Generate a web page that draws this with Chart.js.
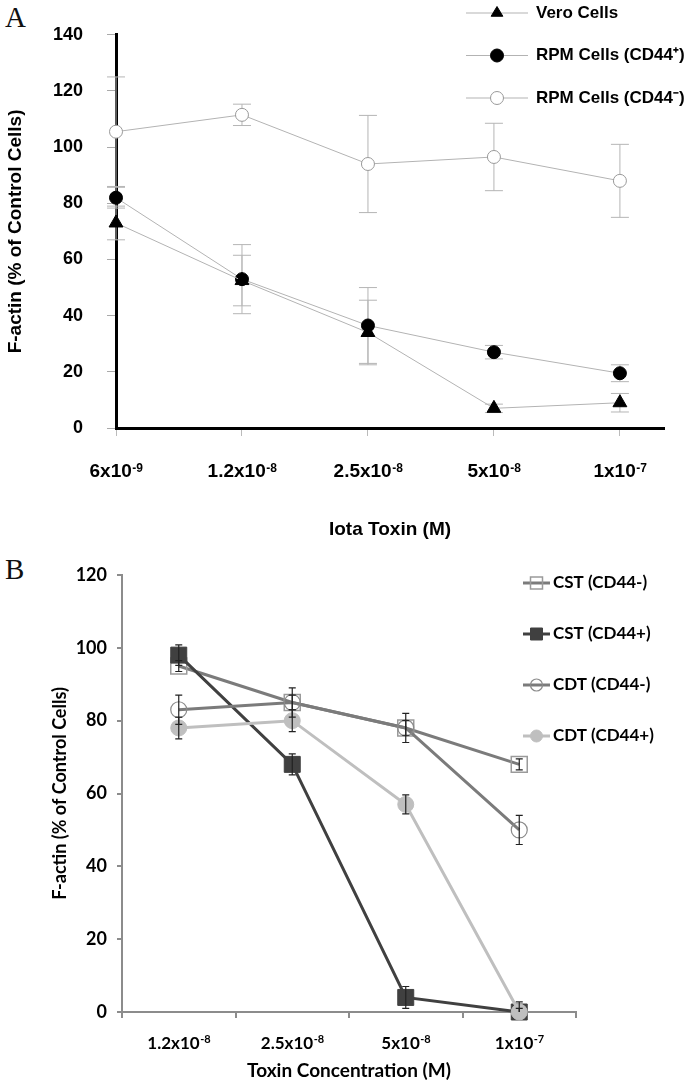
<!DOCTYPE html>
<html lang="en">
<head>
<meta charset="UTF-8">
<title>F-actin vs toxin concentration</title>
<script src="https://cdn.jsdelivr.net/npm/chart.js"></script>
<style>
  body { margin: 0; background: #fff; width: 692px; height: 1086px; position: relative; overflow: hidden; }
  canvas { position: absolute; left: 0; }
  #cA { top: 0; }
  #cB { top: 550px; }
  .panel { position: absolute; left: 5px; font: 29px "Liberation Serif", "DejaVu Serif", serif; line-height: 29px; color: #111; }
</style>
</head>
<body>
<div class="panel" style="top:3px">A</div>
<div class="panel" style="top:555px">B</div>
<canvas id="cA" width="692" height="550"></canvas>
<canvas id="cB" width="692" height="536"></canvas>

<script>
// ---- panel A : iota toxin ----
const labelsA = ['6x10⁻⁹', '1.2x10⁻⁸', '2.5x10⁻⁸', '5x10⁻⁸', '1x10⁻⁷'];
const vero      = [73, 52.5, 34, 7, 9];
const veroErr   = [6, 9, 11.5, 1.5, 3.3];
const rpmPos    = [82, 53, 36.5, 27, 19.5];
const rpmPosErr = [3.7, 12.3, 13.5, 2.4, 3];
const rpmNeg    = [105.5, 111.5, 94, 96.5, 88];
const rpmNegErr = [19.5, 3.8, 17.3, 12, 13];
const ticksA    = [0, 20, 40, 60, 80, 100, 120, 140];

// ---- panel B : CST / CDT ----
const labelsB   = ['1.2x10⁻⁸', '2.5x10⁻⁸', '5x10⁻⁸', '1x10⁻⁷'];
const cstNeg    = [95, 85, 78, 68];
const cstNegErr = [1.5, 2, 4, 1.5];
const cstPos    = [98, 68, 4, 0];
const cstPosErr = [2.8, 2.9, 3, 1];
const cdtNeg    = [83, 85, 78, 50];
const cdtNegErr = [4, 4, 2, 4];
const cdtPos    = [78, 80, 57, 0];
const cdtPosErr = [3, 3, 2.6, 2.8];

const sansA = '"Liberation Sans", Arial, sans-serif';
const sansB = 'Lato, "Open Sans", sans-serif';

const supMap = { '⁻': '-', '⁺': '+', '⁰': '0', '¹': '1', '²': '2', '³': '3', '⁴': '4',
                 '⁵': '5', '⁶': '6', '⁷': '7', '⁸': '8', '⁹': '9' };

function splitSup(s) {
  const chars = [...s];
  const k = chars.findIndex(c => supMap[c]);
  if (k < 0) return [s, ''];
  return [chars.slice(0, k).join(''), chars.slice(k).map(c => supMap[c] || c).join('')];
}

function drawMarker(ctx, style, x, y, r, fill, stroke, lw) {
  ctx.beginPath();
  if (style === 'rect') {
    ctx.rect(x - r, y - r, 2 * r, 2 * r);
  } else if (style === 'triangle') {
    const h = r * 1.5;
    ctx.moveTo(x, y - r);
    ctx.lineTo(x + r * 0.9, y + h - r);
    ctx.lineTo(x - r * 0.9, y + h - r);
    ctx.closePath();
  } else {
    ctx.arc(x, y, r, 0, Math.PI * 2);
  }
  if (fill) { ctx.fillStyle = fill; ctx.fill(); }
  if (stroke && lw) { ctx.strokeStyle = stroke; ctx.lineWidth = lw; ctx.stroke(); }
}

function paintErrors(chart, o) {
  const ctx = chart.ctx;
  ctx.save();
  ctx.strokeStyle = o.color;
  ctx.lineWidth = o.width;
  chart.data.datasets.forEach((ds, i) => {
    const meta = chart.getDatasetMeta(i);
    const ys = chart.scales[meta.yAxisID];
    meta.data.forEach((pt, j) => {
      const e = ds.errors[j];
      if (!e) return;
      const raw = ds.data[j];
      const v = typeof raw === 'object' ? raw.y : raw;
      const lo = Math.max(v - e, ys.min);
      const yt = ys.getPixelForValue(v + e);
      const yb = ys.getPixelForValue(lo);
      const x = pt.x;
      ctx.beginPath();
      ctx.moveTo(x, yt); ctx.lineTo(x, yb);
      ctx.moveTo(x - o.cap, yt); ctx.lineTo(x + o.cap, yt);
      if (lo > ys.min) { ctx.moveTo(x - o.cap, yb); ctx.lineTo(x + o.cap, yb); }
      ctx.stroke();
    });
  });
  ctx.restore();
}

const errorBars = {
  id: 'errorBars',
  beforeDatasetsDraw(chart, args, o) { if (!o.front) paintErrors(chart, o); },
  afterDatasetsDraw(chart, args, o) { if (o.front) paintErrors(chart, o); }
};

// x tick labels with a real raised exponent
const supTicks = {
  id: 'supTicks',
  afterDraw(chart, args, o) {
    const ctx = chart.ctx;
    const sc = chart.scales.x;
    ctx.save();
    ctx.fillStyle = '#000';
    ctx.textBaseline = 'alphabetic';
    ctx.textAlign = 'left';
    sc.ticks.forEach((t, i) => {
      const [base, exp] = splitSup(o.labels[i]);
      ctx.font = 'bold ' + o.size + 'px ' + o.family;
      const w1 = ctx.measureText(base).width;
      ctx.font = 'bold ' + o.expSize + 'px ' + o.family;
      const w2 = ctx.measureText(exp).width;
      const x0 = sc.getPixelForTick(i) - (w1 + w2) / 2;
      ctx.font = 'bold ' + o.size + 'px ' + o.family;
      ctx.fillText(base, x0, o.y);
      ctx.font = 'bold ' + o.expSize + 'px ' + o.family;
      ctx.fillText(exp, x0 + w1 + 0.5, o.y - o.raise);
    });
    ctx.restore();
  }
};

const sideLegend = {
  id: 'sideLegend',
  afterDraw(chart, args, o) {
    const ctx = chart.ctx;
    ctx.save();
    chart.data.datasets.forEach((ds, i) => {
      const y = o.y + i * o.gap;
      ctx.beginPath();
      ctx.strokeStyle = ds.borderColor;
      ctx.lineWidth = ds.borderWidth;
      ctx.moveTo(o.x, y); ctx.lineTo(o.x + o.len, y);
      ctx.stroke();
      drawMarker(ctx, ds.pointStyle, o.x + o.len / 2, y, o.r,
        ds.pointBackgroundColor, ds.pointBorderColor, ds.pointBorderWidth);
      ctx.fillStyle = '#000';
      ctx.font = o.font;
      ctx.textBaseline = 'middle';
      ctx.textAlign = 'left';
      ctx.fillText(ds.label, o.x + o.len + o.textGap, y);
    });
    ctx.restore();
  }
};

const toXY = arr => arr.map((v, i) => ({ x: i, y: v }));

// ---------- chart A ----------
new Chart(document.getElementById('cA'), {
  type: 'line',
  data: {
    datasets: [
      { label: 'Vero Cells', data: toXY(vero), errors: veroErr,
        borderColor: '#b3b3b3', borderWidth: 1, pointStyle: 'triangle', pointRadius: 8,
        pointBackgroundColor: '#000', pointBorderColor: '#000', pointBorderWidth: 1 },
      { label: 'RPM Cells (CD44⁺)', data: toXY(rpmPos), errors: rpmPosErr,
        borderColor: '#b3b3b3', borderWidth: 1, pointStyle: 'circle', pointRadius: 6.5,
        pointBackgroundColor: '#000', pointBorderColor: '#000', pointBorderWidth: 1 },
      { label: 'RPM Cells (CD44⁻)', data: toXY(rpmNeg), errors: rpmNegErr,
        borderColor: '#b3b3b3', borderWidth: 1, pointStyle: 'circle', pointRadius: 6.5,
        pointBackgroundColor: '#fff', pointBorderColor: '#999', pointBorderWidth: 1 }
    ]
  },
  options: {
    responsive: false,
    animation: false,
    clip: false,
    layout: { padding: { left: 0, right: 28, top: 22, bottom: 0 } },
    scales: {
      x: {
        type: 'linear', min: 0, max: 4.35,
        afterBuildTicks: s => { s.ticks = labelsA.map((l, i) => ({ value: i })); },
        afterFit: s => { s.height = 122; },
        ticks: { display: false },
        grid: { drawOnChartArea: false, tickLength: 8, color: '#bbb' },
        border: { color: '#000', width: 3 },
        title: { display: true, text: 'Iota Toxin (M)', color: '#000', padding: 9,
                 font: { family: sansA, size: 19, weight: 'bold' } }
      },
      y: {
        min: 0, max: 140,
        afterBuildTicks: s => { s.ticks = ticksA.map(v => ({ value: v })); },
        afterFit: s => { s.width = 116; },
        ticks: { color: '#000', padding: 24,
                 font: { family: sansA, size: 18, weight: 'bold' } },
        grid: { drawOnChartArea: false, tickLength: 9, color: '#aaa' },
        border: { color: '#000', width: 3 },
        title: { display: true, text: 'F-actin (% of Control Cells)', color: '#000',
                 padding: { top: 4, bottom: 0 },
                 font: { family: sansA, size: 19, weight: 'bold' } }
      }
    },
    plugins: {
      legend: { display: false },
      tooltip: { enabled: false },
      errorBars: { color: '#b5b5b5', width: 1, cap: 9, front: false },
      supTicks: { labels: labelsA, family: sansA, size: 19, expSize: 12, y: 477, raise: 5 },
      sideLegend: { x: 466, y: 13, gap: 42.5, len: 62, textGap: 8, r: 6.5,
                    font: 'bold 17px ' + sansA }
    }
  },
  plugins: [errorBars, supTicks, sideLegend]
});

// ---------- chart B ----------
new Chart(document.getElementById('cB'), {
  type: 'line',
  data: {
    labels: labelsB,
    datasets: [
      { label: 'CST (CD44-)', data: cstNeg, errors: cstNegErr, order: 4,
        borderColor: '#7b7b7b', borderWidth: 3, pointStyle: 'rect', pointRadius: 11.3,
        pointBackgroundColor: 'rgba(255,255,255,0)', pointBorderColor: '#9a9a9a', pointBorderWidth: 1.5 },
      { label: 'CST (CD44+)', data: cstPos, errors: cstPosErr, order: 3,
        borderColor: '#404040', borderWidth: 3, pointStyle: 'rect', pointRadius: 11.3,
        pointBackgroundColor: '#404040', pointBorderColor: '#404040', pointBorderWidth: 1 },
      { label: 'CDT (CD44-)', data: cdtNeg, errors: cdtNegErr, order: 2,
        borderColor: '#7b7b7b', borderWidth: 3, pointStyle: 'circle', pointRadius: 8,
        pointBackgroundColor: 'rgba(255,255,255,0)', pointBorderColor: '#8a8a8a', pointBorderWidth: 1.2 },
      { label: 'CDT (CD44+)', data: cdtPos, errors: cdtPosErr, order: 1,
        borderColor: '#bfbfbf', borderWidth: 3, pointStyle: 'circle', pointRadius: 8,
        pointBackgroundColor: '#bfbfbf', pointBorderColor: '#bfbfbf', pointBorderWidth: 1 }
    ]
  },
  options: {
    responsive: false,
    animation: false,
    clip: false,
    layout: { padding: { left: 0, right: 116, top: 25, bottom: 0 } },
    scales: {
      x: {
        offset: true,
        afterFit: s => { s.height = 74; },
        ticks: { display: false },
        grid: { offset: true, drawOnChartArea: false, tickLength: 6, color: '#8c8c8c', lineWidth: 2 },
        border: { color: '#8c8c8c', width: 2 },
        title: { display: true, text: 'Toxin Concentration (M)', color: '#000', padding: 4,
                 font: { family: sansB, size: 19, weight: 'bold' } }
      },
      y: {
        min: 0, max: 120,
        afterFit: s => { s.width = 122; },
        ticks: { stepSize: 20, color: '#000', padding: 10,
                 font: { family: sansB, size: 18, weight: 'bold' } },
        grid: { drawOnChartArea: false, tickLength: 5, color: '#8c8c8c', lineWidth: 2 },
        border: { color: '#8c8c8c', width: 2 },
        title: { display: true, text: 'F-actin (% of Control Cells)', color: '#000',
                 padding: { top: 49, bottom: 0 },
                 font: { family: sansB, size: 18, weight: 'bold' } }
      }
    },
    plugins: {
      legend: { display: false },
      tooltip: { enabled: false },
      errorBars: { color: '#222', width: 1.2, cap: 3.5, front: true },
      supTicks: { labels: labelsB, family: sansB, size: 17, expSize: 11, y: 499, raise: 6 },
      sideLegend: { x: 523, y: 33, gap: 51, len: 27, textGap: 3, r: 6,
                    font: 'bold 17px ' + sansB }
    }
  },
  plugins: [errorBars, supTicks, sideLegend]
});
</script>
</body>
</html>
